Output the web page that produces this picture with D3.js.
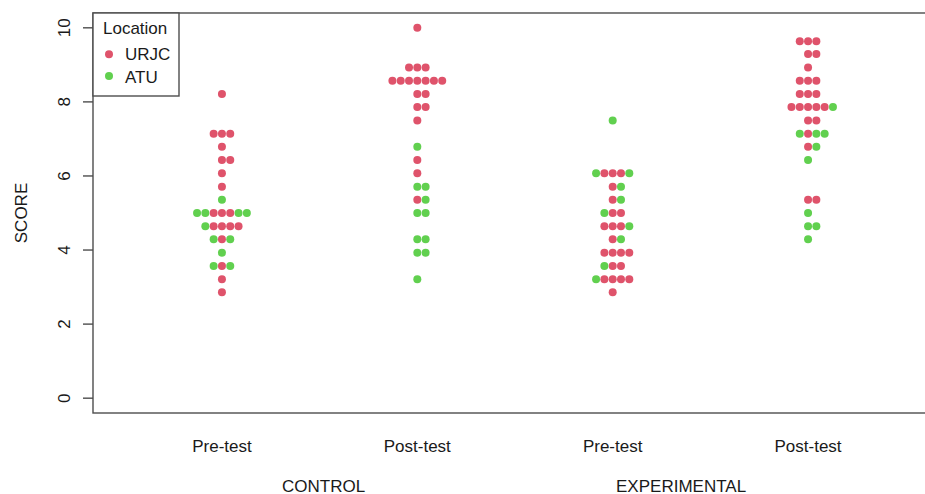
<!DOCTYPE html>
<html>
<head>
<meta charset="utf-8">
<script src="https://cdn.jsdelivr.net/npm/d3@7"></script>
<style>
  body { margin: 0; background: #fff; }
  text { font-family: "Liberation Sans", Arial, sans-serif; fill: #1a1a1a; }
</style>
</head>
<body>
<script>
// Rótulos dos grupos (eixo x) e das condições
const testLabels = ["Pre-test", "Post-test", "Pre-test", "Post-test"];
const conditions = ["CONTROL", "EXPERIMENTAL"];
const locations = ["URJC", "ATU"];
const yTicks = [0, 2, 4, 6, 8, 10];

// Notas (uma lista por grupo e local)
const controlPreURJC = [8.21, 7.14, 7.14, 7.14, 6.79, 6.43, 6.43, 6.07, 5.71, 5.00, 5.00, 5.00,
  4.64, 4.64, 4.64, 4.64, 4.29, 3.57, 3.21, 2.86];
const controlPreATU = [5.36, 5.00, 5.00, 5.00, 5.00, 4.64, 4.29, 4.29, 3.93, 3.57, 3.57];
const controlPostURJC = [10.00, 8.93, 8.93, 8.93, 8.57, 8.57, 8.57, 8.57, 8.57, 8.57, 8.57,
  8.21, 8.21, 7.86, 7.86, 7.50, 6.43, 6.07, 5.36];
const controlPostATU = [6.79, 5.71, 5.71, 5.36, 5.00, 5.00, 4.29, 4.29, 3.93, 3.93, 3.21];
const expPreURJC = [6.07, 6.07, 6.07, 5.71, 5.36, 5.00, 5.00, 4.64, 4.64, 4.64, 4.29,
  3.93, 3.93, 3.93, 3.93, 3.57, 3.57, 3.21, 3.21, 3.21, 3.21, 2.86];
const expPreATU = [7.50, 6.07, 6.07, 5.71, 5.36, 5.00, 4.64, 4.29, 3.57, 3.21];
const expPostURJC = [9.64, 9.64, 9.64, 9.29, 9.29, 8.93, 8.57, 8.57, 8.57, 8.21, 8.21, 8.21,
  7.86, 7.86, 7.86, 7.86, 7.86, 7.50, 7.50, 7.14, 6.79, 5.36, 5.36];
const expPostATU = [7.86, 7.14, 7.14, 7.14, 6.79, 6.43, 5.00, 4.64, 4.64, 4.29];

const seriesURJC = [controlPreURJC, controlPostURJC, expPreURJC, expPostURJC];
const seriesATU = [controlPreATU, controlPostATU, expPreATU, expPostATU];

const colors = { URJC: "#DF536B", ATU: "#61D04F" };

const width = 925, height = 494;
const plot = { left: 93, top: 13, bottom: 413, right: 937 };

const svg = d3.select("body").append("svg")
  .attr("width", width)
  .attr("height", height);

// Escalas (limites estendidos 4%, como no R)
const x = d3.scaleLinear().domain([0.34, 4.66]).range([plot.left, plot.right]);
const y = d3.scaleLinear().domain([-0.4, 10.4]).range([plot.bottom, plot.top]);

const dotR = 4;
const dotStep = 8.3;   // distância horizontal entre bolinhas no mesmo nível

// Monta os pontos: URJC primeiro, depois ATU; em cada nível 0, +1, -1, +2, -2...
const points = [];
testLabels.forEach((lab, g) => {
  const counts = new Map();
  const rows = seriesURJC[g].map(v => ({ v, loc: "URJC" }))
    .concat(seriesATU[g].map(v => ({ v, loc: "ATU" })));
  rows.forEach(r => {
    const key = r.v.toFixed(2);
    const i = counts.get(key) || 0;
    counts.set(key, i + 1);
    const off = i === 0 ? 0 : (i % 2 === 1 ? (i + 1) / 2 : -i / 2);
    points.push({ g: g + 1, v: r.v, loc: r.loc, off });
  });
});

svg.selectAll("circle.dot")
  .data(points)
  .join("circle")
  .attr("class", "dot")
  .attr("cx", d => x(d.g) + d.off * dotStep)
  .attr("cy", d => y(d.v))
  .attr("r", dotR)
  .attr("fill", d => colors[d.loc]);

// Caixa do gráfico
svg.append("rect")
  .attr("x", plot.left)
  .attr("y", plot.top)
  .attr("width", plot.right - plot.left)
  .attr("height", plot.bottom - plot.top)
  .attr("fill", "none")
  .attr("stroke", "#4d4d4d")
  .attr("stroke-width", 1.4);

// Eixo y (marcas e rótulos girados)
const yAxis = svg.append("g");
yAxis.selectAll("line")
  .data(yTicks)
  .join("line")
  .attr("x1", plot.left - 10)
  .attr("x2", plot.left)
  .attr("y1", d => y(d))
  .attr("y2", d => y(d))
  .attr("stroke", "#4d4d4d")
  .attr("stroke-width", 1.4);
yAxis.selectAll("text")
  .data(yTicks)
  .join("text")
  .attr("transform", d => `translate(70,${y(d)}) rotate(-90)`)
  .attr("text-anchor", "middle")
  .attr("font-size", 17)
  .text(d => d);

svg.append("text")
  .attr("transform", `translate(27,${(plot.top + plot.bottom) / 2}) rotate(-90)`)
  .attr("text-anchor", "middle")
  .attr("font-size", 17)
  .text("SCORE");

// Rótulos do eixo x
svg.selectAll("text.xlab")
  .data(testLabels)
  .join("text")
  .attr("class", "xlab")
  .attr("x", (d, i) => x(i + 1))
  .attr("y", 451.5)
  .attr("text-anchor", "middle")
  .attr("font-size", 17)
  .text(d => d);

// Condições (posições como no original)
const conditionAt = [1.52, 3.35];
svg.selectAll("text.cond")
  .data(conditions)
  .join("text")
  .attr("class", "cond")
  .attr("x", (d, i) => x(conditionAt[i]))
  .attr("y", 491.5)
  .attr("text-anchor", "middle")
  .attr("font-size", 17)
  .text(d => d);

// Legenda
const legend = svg.append("g");
legend.append("rect")
  .attr("x", plot.left)
  .attr("y", plot.top)
  .attr("width", 86)
  .attr("height", 83)
  .attr("fill", "#fff")
  .attr("stroke", "#4d4d4d")
  .attr("stroke-width", 1.4);
legend.append("text")
  .attr("x", 103)
  .attr("y", 34.3)
  .attr("font-size", 17)
  .text("Location");
locations.forEach((loc, i) => {
  legend.append("circle")
    .attr("cx", 109)
    .attr("cy", 54.3 + i * 21.6)
    .attr("r", dotR)
    .attr("fill", colors[loc]);
  legend.append("text")
    .attr("x", 125)
    .attr("y", 60 + i * 23.3)
    .attr("font-size", 17)
    .text(loc);
});
</script>
</body>
</html>
